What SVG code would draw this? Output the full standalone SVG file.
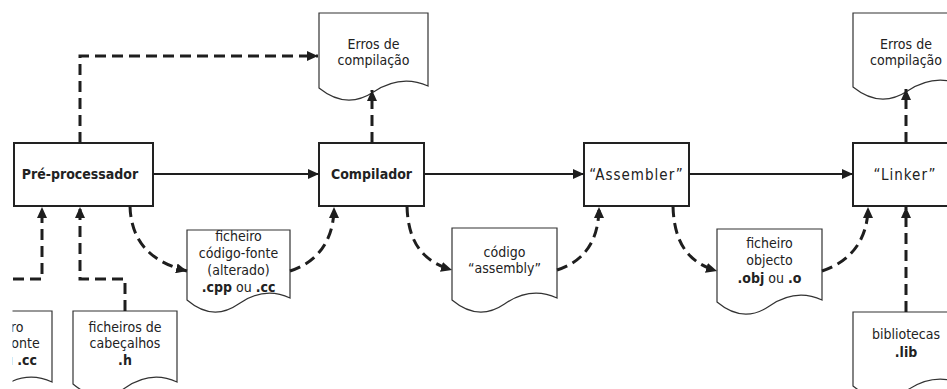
<svg xmlns="http://www.w3.org/2000/svg" width="947" height="389" viewBox="0 0 947 389">
  <style>
    .bg { fill: #ffffff; }
    .box { fill: #ffffff; stroke: #222222; stroke-width: 2; }
    .doc { fill: #ffffff; stroke: #333333; stroke-width: 1.2; }
    .lbl { font-family: "DejaVu Sans Condensed", "DejaVu Sans", sans-serif; font-stretch: condensed; font-size: 14px; fill: #222222; text-anchor: middle; }
    .b { font-weight: bold; }
    .q { font-size: 15px; letter-spacing: 1px; }
    .flow { fill: none; stroke: #1e1e1e; stroke-width: 2; marker-end: url(#head); }
    .dash { fill: none; stroke: #1e1e1e; stroke-width: 3; stroke-dasharray: 11 6; marker-end: url(#head); }
  </style>
  <defs>
    <marker id="head" markerUnits="userSpaceOnUse" markerWidth="12" markerHeight="10" refX="11" refY="5" orient="auto">
      <path d="M0,0 L11,5 L0,10 z" fill="#1e1e1e"/>
    </marker>
    <!-- drawing area: left margin strip stays blank -->
    <clipPath id="area">
      <rect x="12.5" y="0" width="935" height="389"/>
    </clipPath>
  </defs>

  <rect class="bg" x="0" y="0" width="947" height="389"/>

  <g clip-path="url(#area)">
    <!-- process steps -->
    <g id="preprocessador">
      <rect class="box" x="14" y="143" width="139" height="63"/>
      <text class="lbl b" x="80" y="179">Pré-processador</text>
    </g>
    <g id="compilador">
      <rect class="box" x="319" y="143" width="105" height="63"/>
      <text class="lbl b" x="371.5" y="179">Compilador</text>
    </g>
    <g id="assembler">
      <rect class="box" x="584" y="143" width="105" height="63"/>
      <text class="lbl q" x="636.5" y="180">“Assembler”</text>
    </g>
    <g id="linker">
      <rect class="box" x="853" y="143" width="110" height="63"/>
      <text class="lbl q" x="905" y="180">“Linker”</text>
    </g>

    <!-- documents (wavy bottom edge) -->
    <g id="erros-pre">
      <path class="doc" d="M319,13 H428 V86 Q400.75,74 373.5,92 Q346.25,110 319,88 Z"/>
      <text class="lbl" x="373.5" y="49">Erros de</text>
      <text class="lbl" x="373.5" y="65">compilação</text>
    </g>
    <g id="erros-linker">
      <path class="doc" d="M853,13 H962 V85 Q934.75,73 907.5,91 Q880.25,109 853,87 Z"/>
      <text class="lbl" x="906" y="49">Erros de</text>
      <text class="lbl" x="906" y="65">compilação</text>
    </g>
    <g id="fonte-alterado">
      <path class="doc" d="M187,230 H290 V298 Q264.25,286 238.5,304 Q212.75,322 187,300 Z"/>
      <text class="lbl" x="238.5" y="241">ficheiro</text>
      <text class="lbl" x="238.5" y="258">código-fonte</text>
      <text class="lbl" x="238.5" y="275">(alterado)</text>
      <text class="lbl" x="238.5" y="292"><tspan class="b">.cpp</tspan> ou <tspan class="b">.cc</tspan></text>
    </g>
    <g id="codigo-assembly">
      <path class="doc" d="M452,228 H557 V298 Q530.75,286 504.5,304 Q478.25,322 452,300 Z"/>
      <text class="lbl" x="504.5" y="257">código</text>
      <text class="lbl" x="504.5" y="273">“assembly”</text>
    </g>
    <g id="ficheiro-objecto">
      <path class="doc" d="M717,229 H822 V300 Q795.75,288 769.5,306 Q743.25,324 717,302 Z"/>
      <text class="lbl" x="769.5" y="248">ficheiro</text>
      <text class="lbl" x="769.5" y="265">objecto</text>
      <text class="lbl" x="769.5" y="283"><tspan class="b">.obj</tspan> ou <tspan class="b">.o</tspan></text>
    </g>
    <g id="bibliotecas">
      <path class="doc" d="M853,312 H962 V384 Q934.75,372 907.5,390 Q880.25,408 853,386 Z"/>
      <text class="lbl" x="906" y="339">bibliotecas</text>
      <text class="lbl b" x="906" y="357">.lib</text>
    </g>
    <g id="cabecalhos">
      <path class="doc" d="M73,311 H177 V382 Q151,370 125,388 Q99,406 73,384 Z"/>
      <text class="lbl" x="125" y="332">ficheiros de</text>
      <text class="lbl" x="125" y="348">cabeçalhos</text>
      <text class="lbl b" x="125" y="365">.h</text>
    </g>
    <g id="fonte-original">
      <path class="doc" d="M-52,311 H52 V382 Q26,370 0,388 Q-26,406 -52,384 Z"/>
      <text class="lbl" x="0" y="332">ficheiro</text>
      <text class="lbl" x="0" y="348">código-fonte</text>
      <text class="lbl" x="0" y="365"><tspan class="b">.cpp</tspan> ou <tspan class="b">.cc</tspan></text>
    </g>

    <!-- connectors -->
    <g id="connectors">
      <path class="flow" d="M153,174 H319"/>
      <path class="flow" d="M424,174 H584"/>
      <path class="flow" d="M689,174 H853"/>

      <path class="dash" d="M80,143 V56 H318"/>
      <path class="dash" d="M372,143 V90"/>
      <path class="dash" d="M906,143 V89"/>

      <path class="dash" d="M13,279 H42 V207"/>
      <path class="dash" d="M125,311 V279 H80 V207"/>

      <path class="dash" d="M130,206 C131,245 155,263 187,271"/>
      <path class="dash" d="M290,271 C318,262 334,240 334,207"/>
      <path class="dash" d="M407,206 C408,245 425,262 452,270"/>
      <path class="dash" d="M557,270 C585,261 599,240 599,207"/>
      <path class="dash" d="M673,206 C674,245 690,263 717,271"/>
      <path class="dash" d="M822,271 C850,262 868,240 868,207"/>
      <path class="dash" d="M906,312 V207"/>
    </g>
  </g>
</svg>
